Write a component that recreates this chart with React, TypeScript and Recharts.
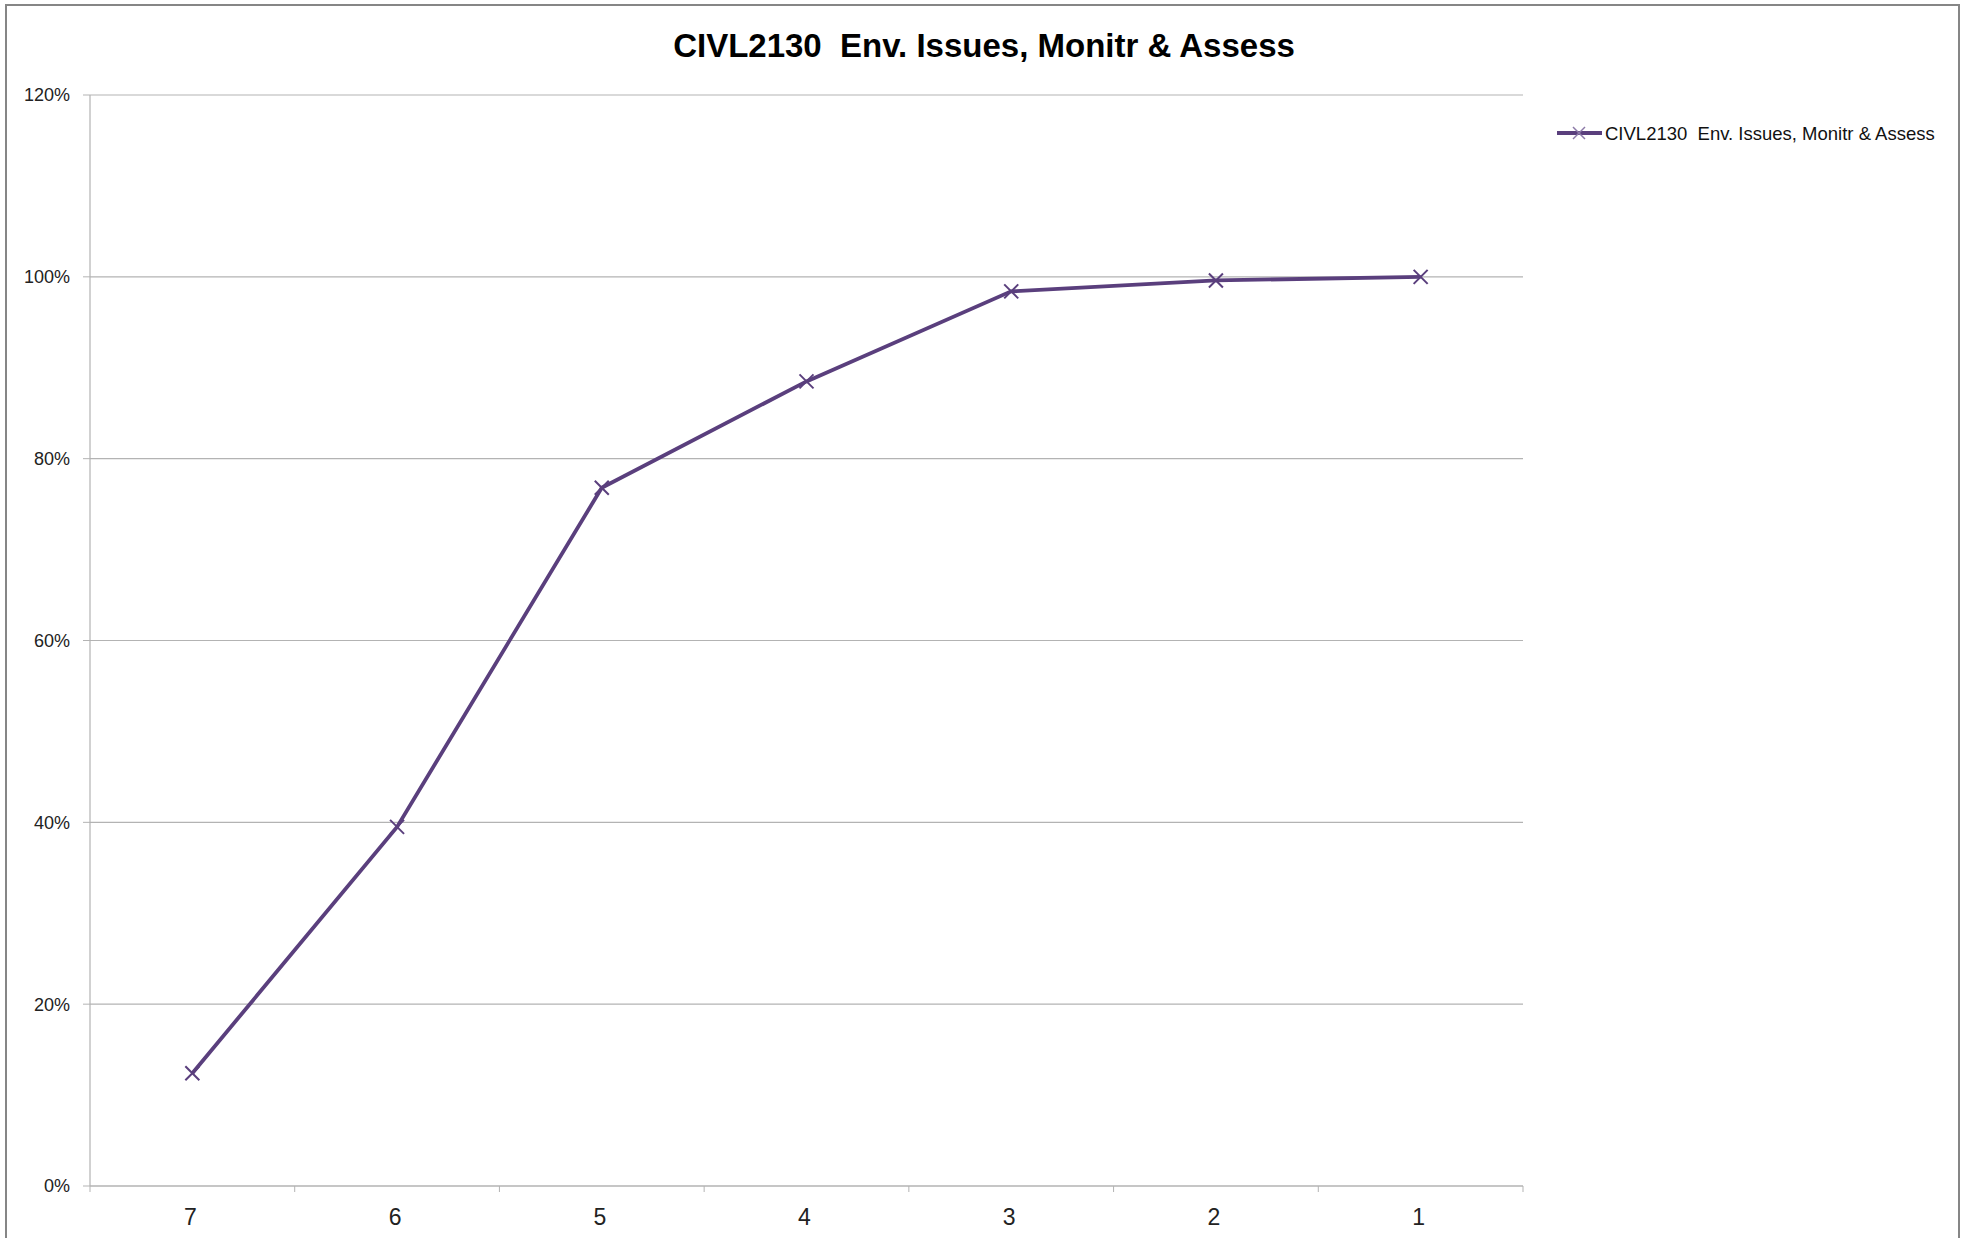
import { LineChart, Line, XAxis, YAxis, CartesianGrid, Legend } from 'recharts'

const title = 'CIVL2130  Env. Issues, Monitr & Assess'
const seriesName = 'CIVL2130  Env. Issues, Monitr & Assess'
const categories = ['7', '6', '5', '4', '3', '2', '1']
const values = [0.124, 0.395, 0.768, 0.885, 0.984, 0.996, 1.0]
const yTicks = [0, 0.2, 0.4, 0.6, 0.8, 1.0, 1.2]

const LINE = '#5a3f7d'
const GRID = '#b3b3b3'
const FONT = '"Liberation Sans", Arial, sans-serif'

const data = categories.map((c, i) => ({ x: i + 0.5, label: c, value: values[i] }))
// boundaries get a tick mark, centres get the label
const xTicks = categories.flatMap((_, i) => [i, i + 0.5]).concat([categories.length])

function Cross(props: any) {
  const { cx, cy } = props
  if (cx == null || cy == null) return null
  const r = 7
  return (
    <g>
      <line x1={cx - r} y1={cy - r} x2={cx + r} y2={cy + r} stroke={LINE} strokeWidth={2} />
      <line x1={cx - r} y1={cy + r} x2={cx + r} y2={cy - r} stroke={LINE} strokeWidth={2} />
    </g>
  )
}

function XTick(props: any) {
  const { x, y, payload } = props
  const v = payload.value
  if (Number.isInteger(v)) {
    return <line x1={x} y1={y} x2={x} y2={y + 6} stroke={GRID} strokeWidth={1} />
  }
  return (
    <text x={x - 2} y={y + 39} textAnchor="middle" fontSize={23} fontFamily={FONT} fill="#222">
      {categories[Math.floor(v)]}
    </text>
  )
}

function LegendBox() {
  return (
    <svg width={400} height={30} style={{ display: 'block' }}>
      <line x1={2} y1={13} x2={47} y2={13} stroke={LINE} strokeWidth={4} />
      <line x1={18} y1={7} x2={30} y2={19} stroke="#8c7aa8" strokeWidth={1.5} />
      <line x1={18} y1={19} x2={30} y2={7} stroke="#8c7aa8" strokeWidth={1.5} />
      <text x={50} y={20} fontSize={18.5} fontFamily={FONT} fill="#111" style={{ whiteSpace: 'pre' }}>
        {seriesName}
      </text>
    </svg>
  )
}

export default function App() {
  return (
    <div
      style={{
        position: 'absolute',
        left: 0,
        top: 0,
        width: 1962,
        height: 1238,
        background: '#fff',
        overflow: 'hidden',
      }}
    >
      <div
        style={{
          position: 'absolute',
          left: 5,
          top: 4,
          width: 1951,
          height: 1300,
          borderLeft: '2px solid #868686',
          borderTop: '2px solid #868686',
          borderRight: '2px solid #868686',
        }}
      />
      <svg width={1962} height={80} style={{ position: 'absolute', left: 0, top: 0 }}>
        <text
          x={984}
          y={57}
          textAnchor="middle"
          fontSize={33}
          fontWeight="bold"
          fontFamily={FONT}
          fill="#000"
          style={{ whiteSpace: 'pre' }}
        >
          {title}
        </text>
      </svg>
      <div style={{ position: 'absolute', left: 0, top: 0 }}>
        <LineChart width={1962} height={1238} data={data} margin={{ top: 95, right: 439, bottom: 12, left: 0 }}>
          <CartesianGrid vertical={false} stroke={GRID} strokeWidth={1.2} />
          <XAxis
            dataKey="x"
            type="number"
            domain={[0, categories.length]}
            ticks={xTicks}
            interval={0}
            tick={<XTick />}
            tickLine={false}
            tickSize={0}
            tickMargin={0}
            height={40}
            axisLine={{ stroke: GRID, strokeWidth: 1.2 }}
          />
          <YAxis
            domain={[0, 1.2]}
            ticks={yTicks}
            interval={0}
            width={90}
            tickFormatter={(v: number) => `${Math.round(v * 100)}%`}
            tick={{ fontSize: 18, fontFamily: FONT, fill: '#222' }}
            tickSize={7}
            tickMargin={13}
            tickLine={{ stroke: GRID }}
            axisLine={{ stroke: GRID, strokeWidth: 1.2 }}
          />
          <Legend
            layout="vertical"
            align="center"
            verticalAlign="middle"
            wrapperStyle={{ left: 1555, top: 120, width: 400 }}
            content={<LegendBox />}
          />
          <Line
            type="linear"
            dataKey="value"
            name={seriesName}
            stroke={LINE}
            strokeWidth={3.8}
            dot={<Cross />}
            activeDot={false}
            isAnimationActive={false}
          />
        </LineChart>
      </div>
    </div>
  )
}
